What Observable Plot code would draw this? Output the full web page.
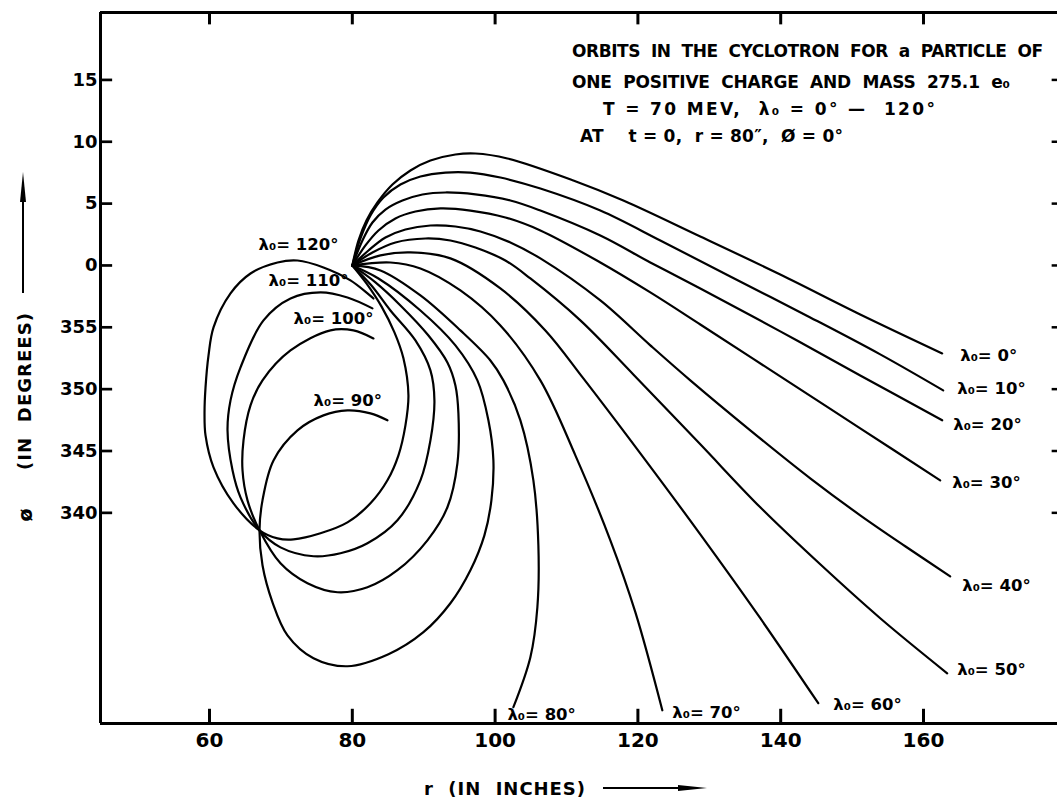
<!DOCTYPE html>
<html><head><meta charset="utf-8">
<script src="https://cdn.jsdelivr.net/npm/d3@7"></script>
<script src="https://cdn.jsdelivr.net/npm/@observablehq/plot@0.6"></script>
<style>
html,body{margin:0;padding:0;background:#fff;}
#chart svg{display:block;}
.pre{white-space:pre;}
</style>
</head><body><div id="chart"></div>
<script>
// ---- data (r in inches, phi in degrees; negative phi = 360 + phi) ----
const lambdas = [0,10,20,30,40,50,60,70,80,90,100,110,120];
const orbit0 = [[80,0],[80.86,2.02],[81.98,3.64],[83.52,5.09],[85.62,6.54],[88.14,7.68],[90.94,8.48],[94.44,8.97],[97.24,9.05],[101.72,8.65],[110.96,6.87],[117.96,5.25],[128.74,2.34],[139.94,-0.73],[151.14,-3.96],[162.62,-7.11]];
const orbit10 = [[80,0],[81.14,2.18],[82.54,4.04],[84.36,5.49],[86.74,6.54],[89.54,7.19],[93.04,7.51],[96.54,7.51],[100.74,7.11],[106.34,6.22],[114.74,4.44],[123.14,2.02],[132.94,-0.89],[144.14,-4.20],[153.94,-7.19],[162.76,-10.10]];
const orbit20 = [[80,0],[81.42,2.02],[82.82,3.47],[84.64,4.52],[87.02,5.25],[89.82,5.74],[93.04,5.90],[97.24,5.74],[102.14,5.25],[106.34,4.44],[114.74,2.42],[121.74,0.24],[128.74,-1.86],[139.94,-5.33],[151.14,-8.89],[162.62,-12.52]];
const orbit30 = [[80,0],[81.84,1.62],[83.66,2.83],[86.04,3.80],[88.84,4.36],[92.34,4.61],[96.54,4.44],[101.44,3.88],[106.34,2.83],[114.74,0.24],[121.74,-2.18],[128.74,-4.77],[139.94,-8.97],[151.14,-13.17],[162.34,-17.37]];
const orbit40 = [[80,0],[82.26,1.21],[84.64,2.26],[87.44,2.91],[90.94,3.23],[94.44,3.15],[97.94,2.75],[102.14,1.86],[106.34,0.57],[114.74,-2.83],[121.74,-6.46],[127.34,-9.29],[135.74,-13.33],[144.14,-17.21],[151.14,-20.20],[157.44,-22.70],[163.74,-25.13]];
const orbit50 = [[80,0],[82.82,1.05],[86.04,1.86],[90.24,2.18],[93.74,2.02],[97.24,1.45],[101.44,0.40],[104.94,-1.05],[111.94,-4.44],[119.36,-8.81],[128.74,-14.46],[137.14,-19.55],[145.54,-24.16],[153.94,-28.52],[163.32,-32.97]];
const orbit60 = [[80,0],[83.94,0.81],[88.14,1.05],[93.74,0.57],[100.74,-1.86],[107.04,-5.25],[112.36,-9.13],[120.34,-15.19],[128.74,-21.74],[137.14,-28.52],[145.26,-35.39]];
const orbit70 = [[80,0],[85.34,0.24],[89.54,-0.24],[95.14,-2.02],[100.74,-4.85],[106.34,-9.29],[111.24,-15.35],[116.14,-22.22],[119.64,-28.03],[123.42,-35.96]];
const orbit80 = [[80,0],[83.94,-0.40],[89.54,-2.42],[95.14,-5.25],[99.34,-7.68],[101.16,-9.29],[103.54,-12.52],[105.36,-17.37],[106.06,-22.62],[105.92,-27.63],[104.94,-31.67],[102.56,-35.71]];
const orbit90 = [[80,0],[83.66,-1.05],[89.54,-3.64],[94.44,-6.46],[97.52,-9.29],[99.06,-12.52],[99.76,-15.76],[99.48,-18.99],[98.50,-21.82],[96.54,-24.64],[93.74,-27.31],[89.96,-29.65],[85.06,-31.43],[79.32,-32.40],[74.56,-31.75],[70.92,-29.90],[68.82,-27.23],[67.42,-24.24],[67.0,-21.41],[67.42,-18.99],[68.96,-15.76],[72.32,-13.33],[75.96,-12.12],[79.32,-11.72],[82.54,-11.96],[84.92,-12.52]];
const orbit100 = [[80,0],[83.24,-1.37],[86.74,-3.23],[90.66,-5.66],[93.32,-7.84],[94.44,-9.70],[94.86,-11.96],[94.72,-16.00],[93.32,-19.55],[90.52,-22.22],[86.32,-24.64],[82.12,-26.02],[77.92,-26.42],[73.72,-25.69],[69.94,-24.08],[67.0,-21.41],[65.32,-18.99],[64.62,-16.56],[64.76,-14.14],[65.74,-11.31],[67.42,-9.29],[71.34,-6.87],[76.94,-5.25],[80.16,-5.25],[82.96,-5.90]];
const orbit110 = [[80,0],[82.68,-1.62],[85.34,-3.64],[88.84,-6.06],[90.94,-8.48],[91.50,-10.91],[90.94,-14.14],[89.54,-17.37],[86.32,-20.60],[82.12,-22.46],[78.34,-23.27],[74.56,-23.51],[69.94,-22.79],[67.0,-21.41],[64.34,-18.75],[63.22,-16.56],[62.52,-13.33],[62.94,-10.91],[64.34,-8.24],[67.56,-4.44],[71.34,-2.67],[75.54,-2.18],[79.32,-2.59],[82.82,-3.47]];
const orbit120 = [[80,0],[81.98,-1.45],[84.08,-3.31],[85.90,-5.41],[87.16,-7.51],[87.86,-10.50],[87.44,-12.93],[86.46,-15.35],[84.92,-17.37],[82.54,-19.23],[79.32,-20.77],[75.54,-21.65],[71.76,-22.14],[69.52,-22.06],[67.0,-21.41],[63.36,-19.23],[60.56,-16.32],[59.44,-13.74],[59.30,-11.96],[59.44,-9.86],[59.86,-7.27],[60.56,-5.01],[62.94,-2.26],[65.74,-0.65],[69.52,0.24],[72.32,0.40],[75.96,-0.16],[79.74,-1.21],[82.96,-2.67]];
const orbits = [orbit0,orbit10,orbit20,orbit30,orbit40,orbit50,orbit60,orbit70,orbit80,orbit90,orbit100,orbit110,orbit120];

// curve label anchors (r, phi) – left edge of each label
const labelR   = [165.14,164.72,164.16,164.02,165.42,164.72,147.36,124.82,101.72,74.56,71.76,68.26,66.86];
const labelPhi = [-7.27,-9.94,-12.85,-17.53,-25.86,-32.72,-35.55,-36.12,-36.36,-10.91,-4.28,-1.21,1.70];

const xTicks = [60,80,100,120,140,160];
const yTicks = [15,10,5,0,-5,-10,-15,-20];
const xDomain = [44.73, 178.77];
const yDomain = [-37.03, 20.45];

const titleLines = [
  "ORBITS  IN  THE  CYCLOTRON  FOR  a  PARTICLE  OF",
  "ONE  POSITIVE  CHARGE  AND  MASS  275.1  e\u2080",
  "T = 70 MEV,  \u03bb\u2080 = 0\u00b0 \u2014  120\u00b0",
  "AT    t = 0,  r = 80\u2033,  \u00d8 = 0\u00b0"
];

// ---- build tables ----
const rows = [];
orbits.forEach((o, k) => o.forEach(([r, phi], i) => rows.push({lambda: lambdas[k], r, phi, i})));
const labels = lambdas.map((l, k) => ({r: labelR[k], phi: labelPhi[k], text: `\u03bb\u2080= ${l}\u00b0`}));

const FONT = "DejaVu Sans";
const plot = Plot.plot({
  width: 1057, height: 801,
  marginLeft: 100, marginRight: 0, marginTop: 12, marginBottom: 78,
  x: {domain: xDomain},
  y: {domain: yDomain},
  style: {fontFamily: FONT, background: "white", color: "black"},
  marks: [
    Plot.line(rows, {x: "r", y: "phi", z: "lambda", curve: "catmull-rom", stroke: "black", strokeWidth: 2.2}),
    Plot.ruleX([xDomain[0]], {stroke: "black", strokeWidth: 3}),
    Plot.ruleY([yDomain[0], yDomain[1]], {stroke: "black", strokeWidth: 3}),
    Plot.ruleY(yTicks, {y: d => d, x1: () => xDomain[0], x2: () => xDomain[0] + 1.7, stroke: "black", strokeWidth: 2.7}),
    Plot.ruleY(yTicks, {y: d => d, x1: () => xDomain[1] - 0.75, x2: () => xDomain[1], stroke: "black", strokeWidth: 2.5}),
    Plot.ruleX(xTicks, {x: d => d, y1: () => yDomain[0], y2: () => yDomain[0] + 1.15, stroke: "black", strokeWidth: 3}),
    Plot.ruleX(xTicks, {x: d => d, y1: () => yDomain[1] - 1.0, y2: () => yDomain[1], stroke: "black", strokeWidth: 3}),
    Plot.axisX(xTicks, {tickSize: 0, tickPadding: 9, fontSize: 20, fontWeight: "bold", label: null}),
    Plot.axisY(yTicks, {tickSize: 0, tickPadding: 3, fontSize: 18, fontWeight: "bold", label: null,
      tickFormat: d => d < 0 ? String(360 + d) : String(d)}),
    Plot.text(labels, {x: "r", y: "phi", text: "text", textAnchor: "start", fontSize: 16.5, fontWeight: "bold", fill: "black"})
  ]
});
document.getElementById("chart").appendChild(plot);

// ---- annotations: title block and axis titles ----
const svg = d3.select(plot);
const g = svg.append("g").attr("font-family", FONT).attr("font-weight", "bold").attr("fill", "black").attr("text-anchor", "start");
const tpos = [[572, 57, 471], [572, 88, 438], [603, 115, 332], [580, 142, 263]];
titleLines.forEach((t, i) => {
  g.append("text").attr("class", "pre").attr("x", tpos[i][0]).attr("y", tpos[i][1]).attr("font-size", 17).attr("text-anchor", "start")
    .attr("textLength", tpos[i][2]).attr("lengthAdjust", "spacing").text(t);
});
// x axis title
g.append("text").attr("class", "pre").attr("x", 424).attr("y", 795).attr("font-size", 18).attr("text-anchor", "start")
  .attr("textLength", 161).attr("lengthAdjust", "spacing").text("r  (IN  INCHES)");
g.append("line").attr("x1", 603).attr("y1", 788).attr("x2", 690).attr("y2", 788).attr("stroke", "black").attr("stroke-width", 2);
g.append("path").attr("d", "M678,785 L707,788 L678,791 Z").attr("fill", "black");
// y axis title
g.append("text").attr("transform", "translate(32,515) rotate(-90)").attr("font-size", 19)
  .attr("text-anchor", "middle").text("\u00f8");
g.append("text").attr("class", "pre").attr("transform", "translate(31,470) rotate(-90)").attr("font-size", 18).attr("text-anchor", "start")
  .attr("textLength", 157).attr("lengthAdjust", "spacing").text("(IN  DEGREES)");
g.append("line").attr("x1", 23).attr("y1", 293).attr("x2", 23).attr("y2", 195).attr("stroke", "black").attr("stroke-width", 2);
g.append("path").attr("d", "M20,202 L23,172 L26,202 Z").attr("fill", "black");
</script>
</body></html>
